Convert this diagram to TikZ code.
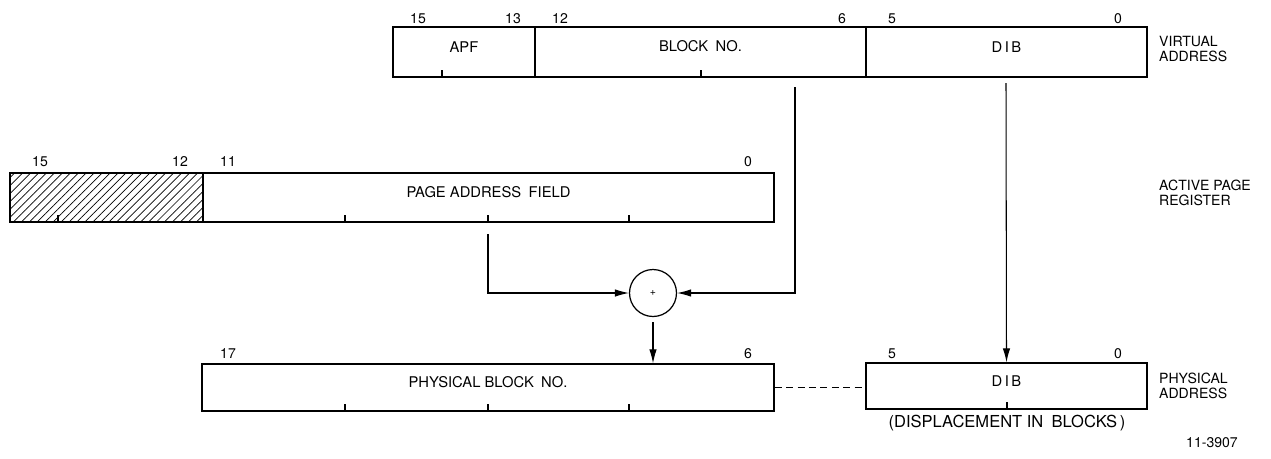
\documentclass[tikz,border=0pt]{standalone}
\usepackage{fontspec}
\setmainfont{TeX Gyre Heros}
\usetikzlibrary{positioning, fit, patterns.meta, arrows.meta}

\tikzset{
  field/.style={draw, line width=0.8pt, inner sep=0pt, font=\fontsize{8.4}{9}\selectfont},
  bitno/.style={font=\fontsize{8}{9}\selectfont},
  sidelbl/.style={anchor=west, align=left, font=\fontsize{8}{8.6}\selectfont},
  flow/.style={line width=0.6pt, -{Latex[length=2.8mm, width=1.5mm]}},
  hatched/.style={pattern={Lines[angle=45, distance=3.2pt, line width=0.4pt]}},
  tick/.style={line width=0.6pt},
}

\begin{document}
\begin{tikzpicture}[x=0.02cm, y=-0.02cm]
  \useasboundingbox (0,0) rectangle (1271,458);

  % Virtual address
  \node[field, fit={(393,27) (535,77)}] (apf) {APF};
  \node[field, fit={(535,27) (866,77)}] (blockno) {BLOCK\enspace NO.};
  \node[field, fit={(866,27) (1147,77)}] (vdib) {D\,I\,B};
  \node[bitno] (v15) at (418,19) {15};
  \node[bitno] (v13) at (513,19) {13};
  \node[bitno] (v12) at (560,19) {12};
  \node[bitno] (v6) at (842,19) {6};
  \node[bitno] (v5) at (892,19) {5};
  \node[bitno] (v0) at (1118,19) {0};
  \foreach \x in {442,701}
    \draw[tick] (\x,77) -- ++(0,-7);
  \node[sidelbl] (virt) at (1153,49) {VIRTUAL\\ADDRESS};

  % Active page register
  \node[field, hatched, fit={(10,173) (203,222)}] (unused) {};
  \node[field, fit={(203,173) (774,222)}] (paf) {PAGE ADDRESS\enspace FIELD};
  \node[bitno] (a15) at (40,162) {15};
  \node[bitno] (a12) at (180,162) {12};
  \node[bitno] (a11) at (228,162) {11};
  \node[bitno] (a0) at (748,162) {0};
  \foreach \x in {58,345,488,629}
    \draw[tick] (\x,222) -- ++(0,-7);
  \node[sidelbl] (apr) at (1153,193) {ACTIVE PAGE\\REGISTER};

  % Adder
  \node[circle, draw, line width=0.7pt, minimum size=0.94cm, inner sep=0pt,
        font=\fontsize{6}{6}\selectfont] (sum) at (653,293) {+};

  % Physical address
  \node[field, fit={(202,364) (774,411)}] (pbn) {PHYSICAL BLOCK\enspace NO.};
  \node[field, fit={(866,363) (1147,409)}] (pdib) {D\,I\,B};
  \node[bitno] (p17) at (228,354) {17};
  \node[bitno] (p6) at (748,354) {6};
  \node[bitno] (p5) at (892,354) {5};
  \node[bitno] (p0) at (1118,354) {0};
  \foreach \x in {345,488,629}
    \draw[tick] (\x,411) -- ++(0,-7);
  \draw[tick] (1007,409) -- ++(0,-7);
  \node[bitno, font=\fontsize{9.4}{10}\selectfont] (disp) at (1007,423)
    {(DISPLACEMENT IN\enspace BLOCKS\,)};
  \node[sidelbl] (phys) at (1153,386) {PHYSICAL\\ADDRESS};
  \node[bitno] (fig) at (1212,443) {11-3907};

  % Connectors
  \coordinate (bnout) at (795,87);
  \coordinate (pafout) at (488,234);
  \coordinate (dibout) at (1006,83);
  \draw[flow] (pafout) |- (sum.west);
  \draw[flow] (bnout) |- (sum.east);
  \draw[flow] (dibout) -- (pdib.north);
  \draw[flow] ([yshift=-3pt]sum.south) -- (sum.south |- pbn.north);
  \draw[line width=0.6pt, dash pattern=on 4pt off 2.5pt] (pbn.east) -- (pbn.east -| pdib.west);
\end{tikzpicture}
\end{document}
